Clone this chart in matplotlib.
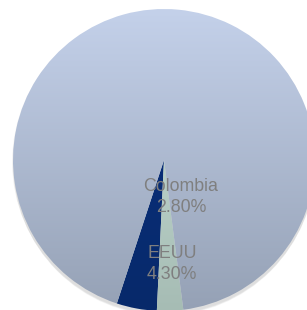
import numpy as np
import matplotlib
matplotlib.use("Agg")
import matplotlib.pyplot as plt
from matplotlib.colors import LinearSegmentedColormap

labels = ["EEUU", "Colombia", "Otros"]
values = [4.3, 2.8, 92.9]
show_label = [True, True, False]
label_pos = [(172, 46), (181, 113), (0, 0)]  # label centres (x, y from bottom)

# gradient top/bottom colours for each slice
grad = [("#0B3384", "#07296A"), ("#CBE4DA", "#A6BCB4"), ("#C4D1EA", "#95A1B5")]

W, H = 307, 310
cx, cy, r = 164, 150, 151

fig = plt.figure(figsize=(W / 100, H / 100), dpi=100)
ax = fig.add_axes([0, 0, 1, 1])

# soft shadow under the pie
for i, a in enumerate([0.05, 0.05, 0.05, 0.06]):
    sh = plt.Circle((cx, cy - 2 - i), r + 1 - i * 0.5, color="#606060", alpha=a, lw=0, zorder=0)
    ax.add_patch(sh)

wedges, _ = ax.pie(values, center=(cx, cy), radius=r, startangle=251.8,
                   counterclock=True, wedgeprops=dict(linewidth=0))

for w, (top, bot) in zip(wedges, grad):
    w.set_facecolor("none")
    cmap = LinearSegmentedColormap.from_list("g", [bot, top])
    g = np.linspace(0, 1, 256).reshape(-1, 1)
    im = ax.imshow(g, cmap=cmap, origin="lower", aspect="auto",
                   extent=[cx - r, cx + r, cy - r, cy + r], zorder=1)
    im.set_clip_path(w)

for (x, y), lab, v, s in zip(label_pos, labels, values, show_label):
    if not s:
        continue
    ax.text(x, y, f"{lab}\n{v:.2f}%", ha="center", va="center", color="#7F7F7F",
            fontsize=12.8, family="Liberation Sans", linespacing=1.25, zorder=3)

ax.set_xlim(0, W)
ax.set_ylim(0, H)
ax.set_aspect("auto")
ax.axis("off")
fig.savefig("out.png", dpi=100)
